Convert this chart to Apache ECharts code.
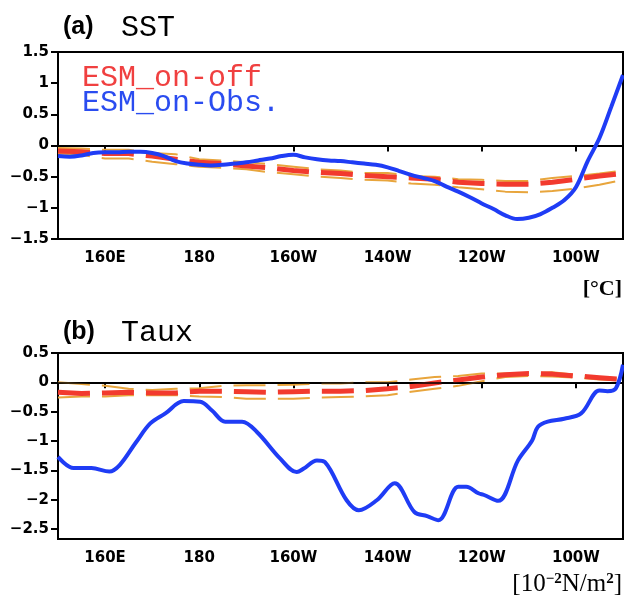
<!DOCTYPE html>
<html><head><meta charset="utf-8">
<script src="https://cdn.jsdelivr.net/npm/echarts@6/dist/echarts.min.js"></script>
<style>html,body{margin:0;padding:0;background:#fff}#c{width:624px;height:599px}</style>
</head><body><div id="c"></div>
<script>
// ---- axes ----
const lonTicks = [160, 180, 200, 220, 240, 260];
const lonTickLabels = ['160E', '180', '160W', '140W', '120W', '100W'];
const sstTicks = [-1.5, -1, -0.5, 0, 0.5, 1, 1.5];
const tauxTicks = [-2.5, -2, -1.5, -1, -0.5, 0, 0.5];

// ---- (a) SST ----
const lonObsSST = [150,152.5,155,157.5,160,162.5,165,167.5,170,172.5,175,177.5,180,182.5,185,187.5,190,192.5,195,197.5,200,202.5,205,207.5,210,212.5,215,217.5,220,222.5,225,227.5,230,232.5,235,237.5,240,242.5,245,247.5,250,252.5,255,257.5,260,262.5,265,267.5,270];
const sstObs = [-0.17,-0.18,-0.16,-0.12,-0.11,-0.11,-0.10,-0.10,-0.12,-0.17,-0.25,-0.29,-0.31,-0.32,-0.31,-0.29,-0.27,-0.24,-0.21,-0.17,-0.15,-0.19,-0.22,-0.24,-0.25,-0.27,-0.29,-0.31,-0.35,-0.41,-0.47,-0.52,-0.57,-0.66,-0.74,-0.83,-0.93,-1.02,-1.12,-1.18,-1.16,-1.10,-1.00,-0.88,-0.67,-0.25,0.12,0.62,1.13];
const lonEns = [150,155,160,165,170,175,180,185,190,195,200,205,210,215,220,225,230,235,240,245,250,255,260,265,270];
const sstOff = [-0.09,-0.10,-0.13,-0.13,-0.17,-0.22,-0.27,-0.29,-0.33,-0.36,-0.40,-0.43,-0.45,-0.48,-0.50,-0.52,-0.54,-0.59,-0.61,-0.62,-0.62,-0.59,-0.54,-0.49,-0.45];
const sstOffHi = [-0.04,-0.05,-0.07,-0.07,-0.12,-0.14,-0.22,-0.24,-0.27,-0.30,-0.34,-0.38,-0.40,-0.44,-0.44,-0.49,-0.50,-0.54,-0.55,-0.57,-0.57,-0.52,-0.49,-0.45,-0.40];
const sstOffLo = [-0.13,-0.15,-0.21,-0.21,-0.26,-0.30,-0.34,-0.36,-0.38,-0.43,-0.46,-0.50,-0.52,-0.55,-0.56,-0.61,-0.63,-0.67,-0.70,-0.74,-0.75,-0.73,-0.69,-0.63,-0.55];

// ---- (b) Taux ----
const lonObsTaux = [150,153.3,157.1,160.9,163.1,166.5,169.6,172.8,176.7,180.2,182.7,185.5,189.1,192.3,197.2,200.7,202.2,205,206.7,211.3,213.9,217.7,221.5,225.7,228.4,230.8,235,236.7,239.3,240.5,243.5,247.7,250.7,251.9,254,257.5,261.1,265,266.7,268.5,270];
const tauxObs = [-1.27,-1.46,-1.46,-1.52,-1.41,-1.03,-0.70,-0.53,-0.32,-0.33,-0.48,-0.67,-0.67,-0.85,-1.30,-1.53,-1.47,-1.33,-1.36,-2.01,-2.18,-2.01,-1.72,-2.21,-2.28,-2.35,-1.78,-1.78,-1.89,-1.92,-2.02,-1.33,-0.99,-0.76,-0.67,-0.62,-0.53,-0.14,-0.15,-0.10,0.30];
const tauxOff = [-0.17,-0.19,-0.18,-0.17,-0.18,-0.18,-0.15,-0.15,-0.16,-0.17,-0.16,-0.15,-0.15,-0.14,-0.11,-0.07,-0.01,0.04,0.09,0.13,0.15,0.14,0.11,0.08,0.05];
const tauxOffHi = [0.00,-0.03,-0.06,-0.11,-0.13,-0.11,-0.10,-0.06,-0.05,-0.05,-0.04,-0.02,-0.02,0.00,0.00,0.05,0.09,0.11,0.15,0.15,0.16,0.17,0.13,0.08,0.06];
const tauxOffLo = [-0.26,-0.24,-0.24,-0.22,-0.22,-0.22,-0.24,-0.25,-0.28,-0.28,-0.28,-0.26,-0.25,-0.24,-0.22,-0.16,-0.11,-0.06,0.02,0.09,0.11,0.10,0.08,0.05,0.03];

const BLUE = '#1f3cf5', RED = '#f23a2e', ORANGE = '#e8a53c';
const zip = (xs, ys) => xs.map((x, i) => [x, ys[i]]);
const labelFont = { fontFamily: 'DejaVu Sans', fontWeight: 'bold', fontSize: 15, color: '#000' };
const fmtLon = v => lonTickLabels[lonTicks.indexOf(v)] || '';
const fmtNum = v => (v < 0 ? '\u2212' : '') + Math.abs(v);

function xAx(gi) {
  return {
    type: 'value', gridIndex: gi, min: 150, max: 270,
    axisLine: { show: true, lineStyle: { color: '#000', width: 2 } },
    axisTick: { show: true, inside: false, length: 6, lineStyle: { color: '#000', width: 2 }, customValues: lonTicks },
    axisLabel: Object.assign({ margin: 12, formatter: fmtLon, customValues: lonTicks }, labelFont),
    splitLine: { show: false }
  };
}
function yAx(gi, min, max, ticks) {
  return {
    type: 'value', gridIndex: gi, min: min, max: max,
    axisLine: { show: true, lineStyle: { color: '#000', width: 2 } },
    axisTick: { show: true, inside: false, length: 7, lineStyle: { color: '#000', width: 2 }, customValues: ticks },
    axisLabel: Object.assign({ margin: 9, formatter: fmtNum, customValues: ticks }, labelFont),
    splitLine: { show: false }
  };
}
function dashed(gi, xs, ys, color, width, z) {
  return { type: 'line', xAxisIndex: gi, yAxisIndex: gi, data: zip(xs, ys), symbol: 'none', z: z,
    lineStyle: { color: color, width: width, type: [32, 12], cap: 'butt' }, silent: true, animation: false };
}
function obs(gi, xs, ys) {
  return { type: 'line', xAxisIndex: gi, yAxisIndex: gi, data: zip(xs, ys), symbol: 'none', smooth: 0.35, z: 5,
    lineStyle: { color: BLUE, width: 4 }, silent: true, animation: false,
    markLine: { silent: true, symbol: 'none', label: { show: false }, animation: false,
      lineStyle: { color: '#000', width: 1.5, type: 'solid' }, data: [{ yAxis: 0 }] } };
}

const chart = echarts.init(document.getElementById('c'), null, { renderer: 'canvas' });
chart.setOption({
  backgroundColor: '#fff',
  animation: false,
  grid: [
    { left: 58, right: 1, top: 52, height: 187, show: true, borderColor: '#000', borderWidth: 2, backgroundColor: 'transparent' },
    { left: 58, right: 1, top: 353, height: 186, show: true, borderColor: '#000', borderWidth: 2, backgroundColor: 'transparent' }
  ],
  xAxis: [xAx(0), xAx(1)],
  yAxis: [yAx(0, -1.5, 1.5, sstTicks), yAx(1, -2.67, 0.5, tauxTicks)],
  series: [
    dashed(0, lonEns, sstOffHi, ORANGE, 2, 2),
    dashed(0, lonEns, sstOffLo, ORANGE, 2, 2),
    dashed(0, lonEns, sstOff, RED, 5, 3),
    obs(0, lonObsSST, sstObs),
    dashed(1, lonEns, tauxOffHi, ORANGE, 2, 2),
    dashed(1, lonEns, tauxOffLo, ORANGE, 2, 2),
    dashed(1, lonEns, tauxOff, RED, 5, 3),
    obs(1, lonObsTaux, tauxObs)
  ],
  graphic: [
    { type: 'text', left: 63, top: 15, style: { text: '(a)', font: 'bold 25px "Liberation Sans"', fill: '#000' } },
    { type: 'text', left: 121, top: 13, style: { text: 'SST', font: '30px "Liberation Mono"', fill: '#000' } },
    { type: 'text', left: 82, top: 63, style: { text: 'ESM_on-off', font: '30px "Liberation Mono"', fill: '#f04040' } },
    { type: 'text', left: 82, top: 88, style: { text: 'ESM_on-Obs.', font: '30px "Liberation Mono"', fill: '#2a4cf0' } },
    { type: 'text', right: 2, top: 278, style: { text: '[°C]', font: 'bold 22px "Liberation Serif"', fill: '#000' } },
    { type: 'text', left: 63, top: 320, style: { text: '(b)', font: 'bold 25px "Liberation Sans"', fill: '#000' } },
    { type: 'text', left: 121, top: 318, style: { text: 'Taux', font: '30px "Liberation Mono"', fill: '#000' } },
    { type: 'text', right: 2, top: 572, style: {
        text: '{a|[10}{s|\u22122}{a|N/m}{s|2}{a|]}',
        rich: { a: { font: '25px "Liberation Serif"', fill: '#000', verticalAlign: 'bottom' },
                s: { font: 'bold 15px "Liberation Serif"', fill: '#000', verticalAlign: 'top', padding: [0, 0, 9, 0] } } } }
  ]
});
</script></body></html>
